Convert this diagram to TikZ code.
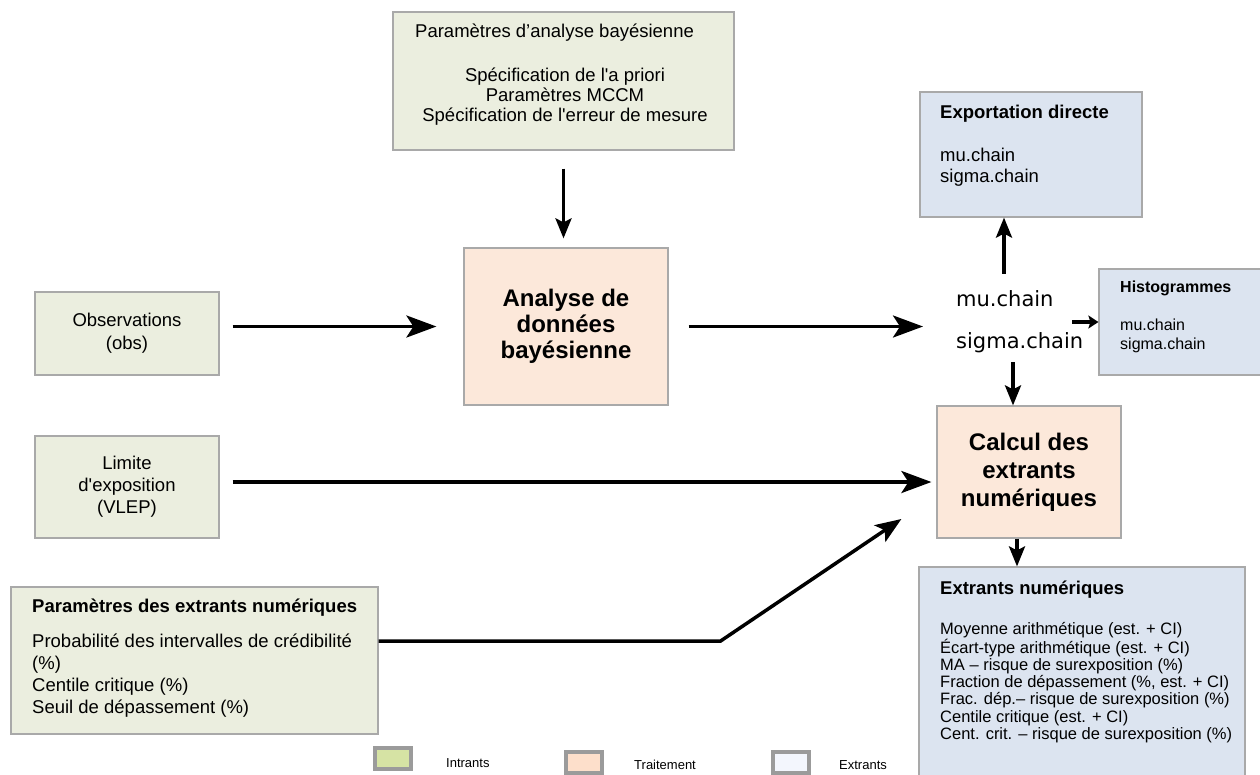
\documentclass[tikz,border=0pt]{standalone}
\usepackage{fontspec}
\setmainfont{Liberation Sans}
\newfontfamily\chainfont{DejaVu Sans}
\usetikzlibrary{arrows.meta,calc}
\definecolor{inbg}{HTML}{EBEEDF}
\definecolor{procbg}{HTML}{FCE8DA}
\definecolor{outbg}{HTML}{DCE4F0}
\definecolor{boxgray}{HTML}{A9A9A9}
\definecolor{swgray}{HTML}{9B9B9B}
\definecolor{swin}{HTML}{D6E3A4}
\definecolor{swproc}{HTML}{FDDFCB}
\definecolor{swout}{HTML}{F3F6FD}

\begin{document}
\begin{tikzpicture}[x=1pt,y=-1pt,
    box/.style={draw=boxgray,line width=1.2pt,inner sep=0pt},
    intrant/.style={box,fill=inbg},
    traitement/.style={box,fill=procbg},
    extrant/.style={box,fill=outbg},
    txt/.style={inner sep=0pt,font=\fontsize{18.5}{21.5}\selectfont},
    flow/.style={line width=3.5pt,-{Stealth[length=30pt,width=22pt,inset=7pt]}},
    midflow/.style={line width=3.5pt,-{Stealth[length=26pt,width=20pt,inset=6pt]}},
    shortflow/.style={line width=3.5pt,-{Stealth[length=20pt,width=16pt,inset=4pt]}},
    swatch/.style={draw=swgray,line width=4pt,minimum width=36pt,minimum height=21pt,inner sep=0pt}]
  \clip (0,0) rectangle (1260,774);
  \fill[white] (0,0) rectangle (1260,774);

  % intrants
  \node[intrant,minimum width=341pt,minimum height=138pt] (prm) at (563.5,81) {};
  \node[txt,anchor=west] (prmtitre) at (415,33) {Paramètres d’analyse bayésienne};
  \node[txt,align=center,font=\fontsize{18.5}{20}\selectfont] (prmliste) at (565,97)
    {Spécification de l\textquotesingle a priori\\Paramètres MCCM\\Spécification de l\textquotesingle erreur de mesure};
  \node[intrant,minimum width=184pt,minimum height=83pt,align=center,font=\fontsize{18.5}{23}\selectfont] (obs) at (127,333.5) {Observations\\(obs)};
  \node[intrant,minimum width=184pt,minimum height=102pt,align=center,font=\fontsize{18.5}{22}\selectfont] (lim) at (127,487) {Limite\\d\textquotesingle exposition\\(VLEP)};
  \node[intrant,minimum width=367pt,minimum height=147pt] (pout) at (194.5,660.5) {};
  \node[txt,anchor=west,align=left,font=\fontsize{18.5}{22.3}\selectfont] (poutliste) at (32,658.5)
    {\textbf{Paramètres des extrants numériques}\\[12pt]Probabilité des intervalles de crédibilité\\(\%)\\Centile critique (\%)\\Seuil de dépassement (\%)};

  % traitement
  \node[traitement,minimum width=204pt,minimum height=157pt,align=center,font=\bfseries\fontsize{24}{26}\selectfont] (ana) at (566,326.5) {Analyse de\\données\\bayésienne};
  \node[traitement,minimum width=184pt,minimum height=132pt,align=center,font=\bfseries\fontsize{24}{28}\selectfont] (calc) at (1029,472) {Calcul des\\extrants\\numériques};

  % extrants
  \node[inner sep=0pt,anchor=west,align=left,font=\chainfont\fontsize{21}{42}\selectfont] (chains) at (956,321.5) {mu.chain\\sigma.chain};
  \node[extrant,minimum width=222pt,minimum height=125pt] (exd) at (1031,154.5) {};
  \node[txt,anchor=west,align=left] (exdliste) at (940,145.5) {\textbf{Exportation directe}\\[21.5pt]mu.chain\\sigma.chain};
  \node[extrant,minimum width=163pt,minimum height=106pt] (hist) at (1180.5,322) {};
  \node[txt,anchor=west,align=left,font=\fontsize{16}{19}\selectfont] (histliste) at (1120,316.5) {\textbf{Histogrammes}\\[19pt]mu.chain\\sigma.chain};
  \node[extrant,minimum width=326pt,minimum height=233pt] (ext) at (1082,683.5) {};
  \node[txt,anchor=west,font=\bfseries\fontsize{18.5}{21.5}\selectfont] (exttitre) at (940,590) {Extrants numériques};
  \node[txt,anchor=west,align=left,font=\fontsize{16.5}{17.2}\selectfont] (extliste) at (940,682.5)
    {Moyenne arithmétique (est. + CI)\\Écart-type arithmétique (est. + CI)\\MA – risque de surexposition (\%)\\Fraction de dépassement (\%, est. + CI)\\Frac. dép.– risque de surexposition (\%)\\Centile critique (est. + CI)\\Cent. crit. – risque de surexposition (\%)};

  % fleches
  \draw[shortflow] ([yshift=-18pt]prm.south) -- ([yshift=9pt]prm.south |- ana.north);
  \draw[flow] ([xshift=13pt]obs.east |- ana.west) -- ([xshift=-27pt]ana.west);
  \draw[flow] ([xshift=20pt]ana.east) -- ([xshift=-33pt]chains.west |- ana.east);
  \draw[shortflow] ([xshift=-27pt,yshift=-56pt]exd.south) -- ([xshift=-27pt]exd.south);
  \draw[line width=3.5pt,-{Stealth[length=10pt,width=13pt,inset=2pt]}] ([xshift=-26pt]hist.west) -- (hist.west);
  \draw[shortflow] ([xshift=-16pt,yshift=43pt]calc.north) -- ([xshift=-16pt]calc.north);
  \draw[flow] ([xshift=13pt,yshift=5pt]lim.east) -- ([xshift=-5pt,yshift=-10pt]calc.west);
  \draw[midflow] ([yshift=19.5pt]pout.east) -- ++(342,0) -- ([xshift=-35pt,yshift=-47pt]calc.west);
  \draw[shortflow] ([xshift=-12pt]calc.south) -- ([xshift=-12pt]calc.south |- ext.north);

  % legende
  \node[swatch,fill=swin] (lgin) at (393,758) {};
  \node[txt,anchor=west,font=\fontsize{13}{15}\selectfont] (lgintxt) at (446,763) {Intrants};
  \node[swatch,fill=swproc] (lgproc) at (584,762) {};
  \node[txt,anchor=west,font=\fontsize{13}{15}\selectfont] (lgproctxt) at (634,765) {Traitement};
  \node[swatch,fill=swout] (lgout) at (791,762) {};
  \node[txt,anchor=west,font=\fontsize{13}{15}\selectfont] (lgouttxt) at (839,765) {Extrants};
\end{tikzpicture}
\end{document}
